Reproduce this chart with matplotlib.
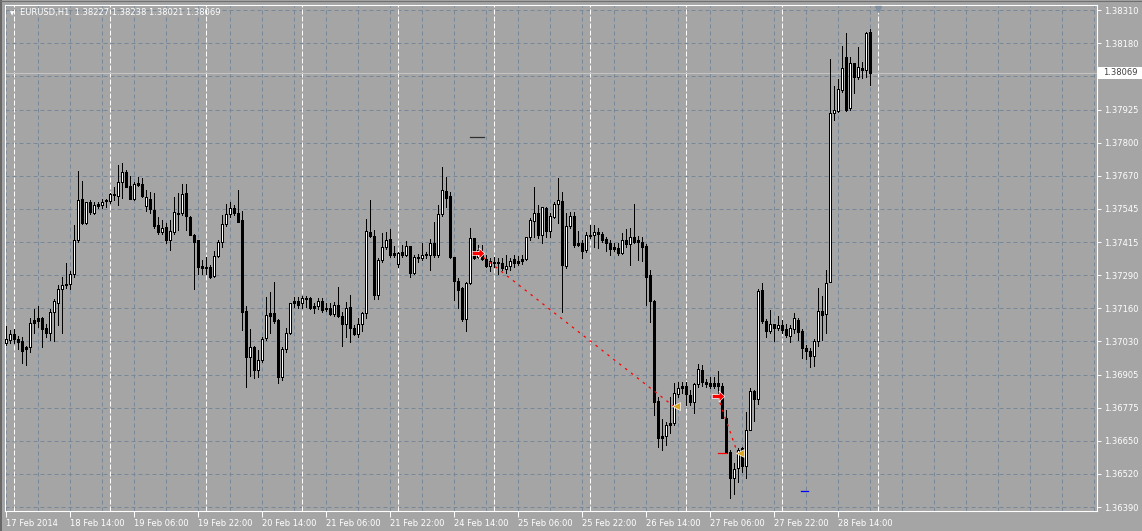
# EURUSD H1 candle chart, MetaTrader style
import numpy as np
import matplotlib.pyplot as plt
from matplotlib.patches import Rectangle
from matplotlib.lines import Line2D

# bars: 17 Feb 2014 22:00 ... 28 Feb 2014 22:00 (H1)
opens = [1.37025, 1.37037, 1.37058, 1.37041, 1.37031, 1.36999, 1.37007, 1.37103, 1.37110, 1.37119,
         1.37084, 1.37064, 1.37142, 1.37180, 1.37232, 1.37254, 1.37254, 1.37289, 1.37421, 1.37582,
         1.37486, 1.37569, 1.37528, 1.37554, 1.37559, 1.37572, 1.37573, 1.37595, 1.37593, 1.37647,
         1.37685, 1.37630, 1.37582, 1.37636, 1.37640, 1.37553, 1.37582, 1.37537, 1.37479, 1.37453,
         1.37473, 1.37421, 1.37453, 1.37524, 1.37527, 1.37602, 1.37511, 1.37443, 1.37421, 1.37312,
         1.37318, 1.37318, 1.37283, 1.37362, 1.37414, 1.37483, 1.37522, 1.37547, 1.37528, 1.37499,
         1.37147, 1.36970, 1.37009, 1.36919, 1.36958, 1.37042, 1.37130, 1.37139, 1.37113, 1.36891,
         1.36999, 1.37061, 1.37177, 1.37185, 1.37177, 1.37199, 1.37199, 1.37158, 1.37168, 1.37185,
         1.37155, 1.37160, 1.37136, 1.37171, 1.37128, 1.37096, 1.37163, 1.37081, 1.37057, 1.37096,
         1.37139, 1.37454, 1.37437, 1.37209, 1.37345, 1.37394, 1.37427, 1.37366, 1.37328, 1.37366,
         1.37366, 1.37399, 1.37293, 1.37352, 1.37351, 1.37363, 1.37364, 1.37409, 1.37366, 1.37521,
         1.37613, 1.37592, 1.37358, 1.37265, 1.37235, 1.37115, 1.37257, 1.37428, 1.37358, 1.37366,
         1.37348, 1.37323, 1.37338, 1.37335, 1.37335, 1.37311, 1.37321, 1.37347, 1.37332, 1.37342,
         1.37347, 1.37432, 1.37497, 1.37527, 1.37441, 1.37547, 1.37457, 1.37512, 1.37561, 1.37573,
         1.37321, 1.37476, 1.37515, 1.37412, 1.37409, 1.37383, 1.37441, 1.37441, 1.37452, 1.37445,
         1.37426, 1.37409, 1.37394, 1.37390, 1.37370, 1.37422, 1.37406, 1.37432, 1.37415, 1.37415,
         1.37398, 1.37286, 1.37186, 1.36801, 1.36656, 1.36665, 1.36716, 1.36716, 1.36826, 1.36849,
         1.36859, 1.36823, 1.36797, 1.36864, 1.36920, 1.36872, 1.36871, 1.36859, 1.36868, 1.36859,
         1.36733, 1.36604, 1.36501, 1.36540, 1.36617, 1.36550, 1.36688, 1.36839, 1.36806, 1.37229,
         1.37110, 1.37072, 1.37097, 1.37083, 1.37094, 1.37077, 1.37051, 1.37080, 1.37113, 1.37072,
         1.37006, 1.36994, 1.36974, 1.37033, 1.37148, 1.37135, 1.37261, 1.37911, 1.37922, 1.38002,
         1.38128, 1.37931, 1.38105, 1.38050, 1.38085, 1.38079, 1.38227]
highs = [1.37090, 1.37074, 1.37077, 1.37052, 1.37048, 1.37012, 1.37119, 1.37157, 1.37168, 1.37125,
         1.37099, 1.37157, 1.37193, 1.37247, 1.37278, 1.37335, 1.37303, 1.37479, 1.37688, 1.37651,
         1.37569, 1.37576, 1.37567, 1.37569, 1.37580, 1.37582, 1.37604, 1.37627, 1.37711, 1.37720,
         1.37694, 1.37669, 1.37647, 1.37666, 1.37663, 1.37614, 1.37608, 1.37604, 1.37511, 1.37499,
         1.37488, 1.37499, 1.37589, 1.37602, 1.37640, 1.37640, 1.37514, 1.37447, 1.37424, 1.37344,
         1.37357, 1.37325, 1.37379, 1.37421, 1.37518, 1.37563, 1.37567, 1.37556, 1.37617, 1.37533,
         1.37166, 1.37080, 1.37012, 1.36996, 1.37048, 1.37203, 1.37220, 1.37258, 1.37115, 1.37007,
         1.37081, 1.37180, 1.37203, 1.37203, 1.37206, 1.37206, 1.37200, 1.37180, 1.37199, 1.37199,
         1.37177, 1.37177, 1.37184, 1.37240, 1.37145, 1.37184, 1.37209, 1.37093, 1.37119, 1.37145,
         1.37502, 1.37576, 1.37461, 1.37351, 1.37450, 1.37454, 1.37463, 1.37399, 1.37377, 1.37403,
         1.37418, 1.37399, 1.37366, 1.37368, 1.37412, 1.37374, 1.37427, 1.37493, 1.37557, 1.37705,
         1.37664, 1.37609, 1.37358, 1.37274, 1.37242, 1.37261, 1.37467, 1.37428, 1.37403, 1.37403,
         1.37364, 1.37351, 1.37358, 1.37351, 1.37351, 1.37366, 1.37351, 1.37366, 1.37360, 1.37366,
         1.37435, 1.37506, 1.37628, 1.37557, 1.37551, 1.37551, 1.37525, 1.37570, 1.37660, 1.37609,
         1.37525, 1.37531, 1.37531, 1.37458, 1.37422, 1.37454, 1.37480, 1.37480, 1.37467, 1.37454,
         1.37435, 1.37424, 1.37409, 1.37409, 1.37448, 1.37463, 1.37467, 1.37561, 1.37437, 1.37432,
         1.37406, 1.37306, 1.37190, 1.36817, 1.36729, 1.36720, 1.36817, 1.36868, 1.36872, 1.36872,
         1.36875, 1.36842, 1.36871, 1.36943, 1.36939, 1.36884, 1.36891, 1.36891, 1.36917, 1.36868,
         1.36765, 1.36611, 1.36559, 1.36617, 1.36623, 1.36759, 1.36849, 1.36843, 1.37231, 1.37257,
         1.37116, 1.37152, 1.37097, 1.37128, 1.37113, 1.37097, 1.37094, 1.37139, 1.37119, 1.37077,
         1.37016, 1.37003, 1.37038, 1.37238, 1.37206, 1.37306, 1.38120, 1.38017, 1.38043, 1.38172,
         1.38223, 1.38128, 1.38107, 1.38166, 1.38111, 1.38227, 1.38238]
lows = [1.37016, 1.37025, 1.37025, 1.36999, 1.36945, 1.36938, 1.36990, 1.37063, 1.37086, 1.37007,
        1.37048, 1.37035, 1.37032, 1.37093, 1.37063, 1.37238, 1.37231, 1.37280, 1.37414, 1.37483,
        1.37483, 1.37524, 1.37524, 1.37547, 1.37544, 1.37550, 1.37566, 1.37576, 1.37559, 1.37585,
        1.37625, 1.37581, 1.37578, 1.37630, 1.37589, 1.37533, 1.37528, 1.37470, 1.37447, 1.37447,
        1.37412, 1.37385, 1.37444, 1.37460, 1.37518, 1.37460, 1.37441, 1.37234, 1.37292, 1.37290,
        1.37292, 1.37277, 1.37280, 1.37357, 1.37395, 1.37475, 1.37511, 1.37518, 1.37490, 1.37074,
        1.36855, 1.36896, 1.36887, 1.36893, 1.36952, 1.37035, 1.37061, 1.37100, 1.36868, 1.36881,
        1.36990, 1.37059, 1.37164, 1.37158, 1.37158, 1.37164, 1.37154, 1.37141, 1.37155, 1.37145,
        1.37149, 1.37132, 1.37130, 1.37126, 1.37012, 1.37048, 1.37029, 1.37055, 1.37048, 1.37072,
        1.37119, 1.37432, 1.37193, 1.37193, 1.37338, 1.37386, 1.37358, 1.37358, 1.37316, 1.37358,
        1.37360, 1.37278, 1.37291, 1.37338, 1.37345, 1.37351, 1.37306, 1.37358, 1.37358, 1.37515,
        1.37551, 1.37351, 1.37190, 1.37158, 1.37110, 1.37070, 1.37252, 1.37347, 1.37351, 1.37345,
        1.37319, 1.37303, 1.37319, 1.37289, 1.37306, 1.37293, 1.37306, 1.37319, 1.37325, 1.37328,
        1.37345, 1.37422, 1.37435, 1.37428, 1.37409, 1.37435, 1.37435, 1.37506, 1.37486, 1.37145,
        1.37312, 1.37467, 1.37396, 1.37399, 1.37354, 1.37377, 1.37428, 1.37396, 1.37390, 1.37415,
        1.37381, 1.37364, 1.37381, 1.37364, 1.37368, 1.37396, 1.37325, 1.37409, 1.37345, 1.37342,
        1.37170, 1.37106, 1.36746, 1.36623, 1.36611, 1.36630, 1.36675, 1.36707, 1.36817, 1.36830,
        1.36784, 1.36784, 1.36752, 1.36855, 1.36858, 1.36853, 1.36849, 1.36849, 1.36810, 1.36733,
        1.36598, 1.36425, 1.36440, 1.36488, 1.36527, 1.36501, 1.36688, 1.36724, 1.36788, 1.37100,
        1.37049, 1.37061, 1.37033, 1.37074, 1.37061, 1.37046, 1.37029, 1.37061, 1.37036, 1.36965,
        1.36961, 1.36933, 1.36936, 1.37012, 1.37036, 1.37061, 1.37261, 1.37886, 1.37918, 1.37995,
        1.37920, 1.37925, 1.37991, 1.38043, 1.38047, 1.38050, 1.38021]
closes = [1.37039, 1.37058, 1.37039, 1.37028, 1.36994, 1.37007, 1.37103, 1.37112, 1.37119, 1.37080,
          1.37063, 1.37142, 1.37186, 1.37231, 1.37247, 1.37247, 1.37291, 1.37421, 1.37578, 1.37486,
          1.37567, 1.37529, 1.37556, 1.37560, 1.37569, 1.37576, 1.37598, 1.37598, 1.37647, 1.37683,
          1.37627, 1.37582, 1.37638, 1.37644, 1.37591, 1.37587, 1.37540, 1.37475, 1.37453, 1.37470,
          1.37421, 1.37456, 1.37529, 1.37528, 1.37599, 1.37514, 1.37443, 1.37415, 1.37316, 1.37321,
          1.37312, 1.37280, 1.37362, 1.37414, 1.37483, 1.37524, 1.37547, 1.37528, 1.37492, 1.37144,
          1.36970, 1.37007, 1.36919, 1.36958, 1.37038, 1.37132, 1.37139, 1.37110, 1.36891, 1.36999,
          1.37061, 1.37177, 1.37185, 1.37171, 1.37199, 1.37196, 1.37158, 1.37167, 1.37185, 1.37151,
          1.37160, 1.37136, 1.37171, 1.37128, 1.37096, 1.37158, 1.37081, 1.37057, 1.37097, 1.37139,
          1.37457, 1.37437, 1.37209, 1.37345, 1.37394, 1.37424, 1.37364, 1.37373, 1.37370, 1.37374,
          1.37399, 1.37296, 1.37355, 1.37356, 1.37366, 1.37366, 1.37409, 1.37366, 1.37521, 1.37615,
          1.37585, 1.37355, 1.37265, 1.37229, 1.37115, 1.37257, 1.37428, 1.37354, 1.37383, 1.37348,
          1.37321, 1.37341, 1.37332, 1.37332, 1.37312, 1.37321, 1.37341, 1.37332, 1.37342, 1.37349,
          1.37432, 1.37499, 1.37525, 1.37441, 1.37548, 1.37457, 1.37515, 1.37561, 1.37575, 1.37325,
          1.37476, 1.37515, 1.37403, 1.37401, 1.37381, 1.37441, 1.37437, 1.37454, 1.37446, 1.37422,
          1.37409, 1.37388, 1.37386, 1.37370, 1.37422, 1.37406, 1.37432, 1.37415, 1.37422, 1.37396,
          1.37280, 1.37187, 1.36797, 1.36658, 1.36665, 1.36707, 1.36709, 1.36830, 1.36851, 1.36859,
          1.36826, 1.36797, 1.36864, 1.36922, 1.36875, 1.36864, 1.36859, 1.36868, 1.36859, 1.36733,
          1.36600, 1.36501, 1.36537, 1.36611, 1.36549, 1.36688, 1.36839, 1.36806, 1.37225, 1.37110,
          1.37072, 1.37097, 1.37081, 1.37094, 1.37074, 1.37055, 1.37081, 1.37119, 1.37068, 1.37003,
          1.36994, 1.36974, 1.37033, 1.37148, 1.37132, 1.37255, 1.37911, 1.37924, 1.38004, 1.38085,
          1.37924, 1.38105, 1.38050, 1.38089, 1.38079, 1.38223, 1.38069]

price_levels = [1.38310, 1.38182, 1.38054, 1.37926, 1.37798, 1.37670, 1.37542, 1.37414,
                1.37286, 1.37158, 1.37030, 1.36902, 1.36774, 1.36646, 1.36518, 1.36390]
# 1.38055 sits under the bid label, so its text stays hidden
price_labels = ["1.38310", "1.38180", "", "1.37925", "1.37800", "1.37670", "1.37545", "1.37415",
                "1.37290", "1.37160", "1.37030", "1.36905", "1.36775", "1.36650", "1.36520", "1.36390"]
time_labels = ["17 Feb 2014", "18 Feb 14:00", "19 Feb 06:00", "19 Feb 22:00", "20 Feb 14:00",
               "21 Feb 06:00", "21 Feb 22:00", "24 Feb 14:00", "25 Feb 06:00", "25 Feb 22:00",
               "26 Feb 14:00", "27 Feb 06:00", "27 Feb 22:00", "28 Feb 14:00"]
bid = 1.38069

# trades (bar index, price)
open_bars = [118, 178]
open_prices = [1.37373, 1.36821]
close_bars = [167, 183]
close_prices = [1.36780, 1.36599]

bg = '#a5a5a5'
grid_col = '#778899'

fig = plt.figure(figsize=(11.42, 5.31), dpi=100, facecolor=bg)
ax = fig.add_axes([4.5 / 1142, 20 / 531, 1092.5 / 1142, 506.5 / 531])
ax.set_facecolor(bg)
ax.set_xlim(-0.25, 272.875)
ax.set_ylim(1.36375, 1.38332)
px = (1.38332 - 1.36375) / 506.5   # one pixel in price units

# grid
for lv in price_levels:
    ax.axhline(lv, color=grid_col, lw=0.72, ls=(0, (4, 3)), zorder=1)
for b in range(0, 273, 8):
    ax.axvline(b, color=grid_col, lw=0.72, ls=(0, (4, 3)), zorder=1)
# day separators
for b in range(2, 219, 24):
    ax.axvline(b, color='white', lw=0.72, ls=(0, (5, 2)), zorder=1.5)

ax.axhline(bid, color='#c4c4c4', lw=0.8, zorder=2)

# candles: 1px wick, 3px body, 1px white core for rising bars
o = np.array(opens); h = np.array(highs); l = np.array(lows); c = np.array(closes)
idx = np.arange(len(o))
up = c >= o
lo = np.minimum(o, c)
hi = np.maximum(np.maximum(o, c), lo + px)
ax.vlines(idx, l, h, color='black', lw=0.72, zorder=3, antialiased=False, snap=True)
ax.vlines(idx, lo, hi, color='black', lw=2.16, capstyle='butt', zorder=4, antialiased=False, snap=True)
inner = up & (hi - lo > 2.5 * px)
ax.vlines(idx[inner], lo[inner] + px, hi[inner] - px, color='white', lw=0.72, capstyle='butt',
          zorder=5, antialiased=False, snap=True)

# trade lines and arrows
arrow = [(-1, -0.3), (0.1, -0.3), (0.1, -0.85), (1, 0), (0.1, 0.85), (0.1, 0.3), (-1, 0.3), (-1, -0.3)]
for ob, op, cb, cp in zip(open_bars, open_prices, close_bars, close_prices):
    ax.plot([ob, cb], [op, cp], color='red', lw=0.9, ls=(0, (2, 4)), zorder=6)
    ax.plot(ob, op, marker=arrow, ms=9, mfc='red', mec='white', mew=0.5, zorder=7)
    ax.plot(cb + 0.5, cp, marker='<', ms=6, mfc='#daa520', mec='white', mew=0.5, zorder=7)
ax.plot([116, 119.5], [1.37820, 1.37820], color='#303030', lw=0.9, zorder=6)
ax.plot([198.8, 200.6], [1.36452, 1.36452], color='blue', lw=0.9, zorder=6)
ax.plot([178.2, 180], [1.36598, 1.36598], color='red', lw=0.9, zorder=6)

# axes frame and ticks
for s in ax.spines.values():
    s.set_color('white')
    s.set_linewidth(0.8)
ax.yaxis.tick_right()
ax.set_yticks(price_levels)
ax.set_yticklabels(price_labels)
ax.set_xticks(range(0, 209, 16))
ax.set_xticklabels(time_labels)
ax.tick_params(axis='y', length=3, width=0.7, colors='white', pad=2, labelsize=6)
ax.tick_params(axis='x', length=4, width=0.7, colors='white', pad=1.5, labelsize=6)
for t in ax.get_xticklabels():
    t.set_horizontalalignment('left')

# bid label on the price scale
ax.add_patch(Rectangle((1.0009, bid - 0.00023), 0.0435, 0.00046, transform=ax.get_yaxis_transform(),
                       facecolor='white', edgecolor='none', clip_on=False, zorder=10))
ax.annotate('1.38069', xy=(1, bid), xycoords=ax.get_yaxis_transform(), xytext=(6, 0),
            textcoords='offset pixels', va='center', ha='left', fontsize=6, color='#404040',
            annotation_clip=False, zorder=11)

# chart shift marker
ax.plot(218, 0.992, marker='v', ms=5, color='#8090a0', transform=ax.get_xaxis_transform(),
        clip_on=False, zorder=8)

# header
ax.annotate('\u25bc', xy=(0, 1), xycoords='axes fraction', xytext=(5, -9), textcoords='offset pixels',
            fontsize=4, color='white', va='center', ha='left')
ax.annotate('EURUSD,H1  1.38227 1.38238 1.38021 1.38069', xy=(0, 1), xycoords='axes fraction',
            xytext=(16, -8), textcoords='offset pixels', fontsize=6, color='white', va='center', ha='left')

# window border
fig.add_artist(Line2D([0.8 / 1142, 0.8 / 1142], [0, 1], color='#5c5c5c', lw=1.2, transform=fig.transFigure))
fig.add_artist(Line2D([0, 1], [1 - 0.5 / 531, 1 - 0.5 / 531], color='#707070', lw=0.8, transform=fig.transFigure))

fig.savefig('out.png', dpi=100, facecolor=bg)
